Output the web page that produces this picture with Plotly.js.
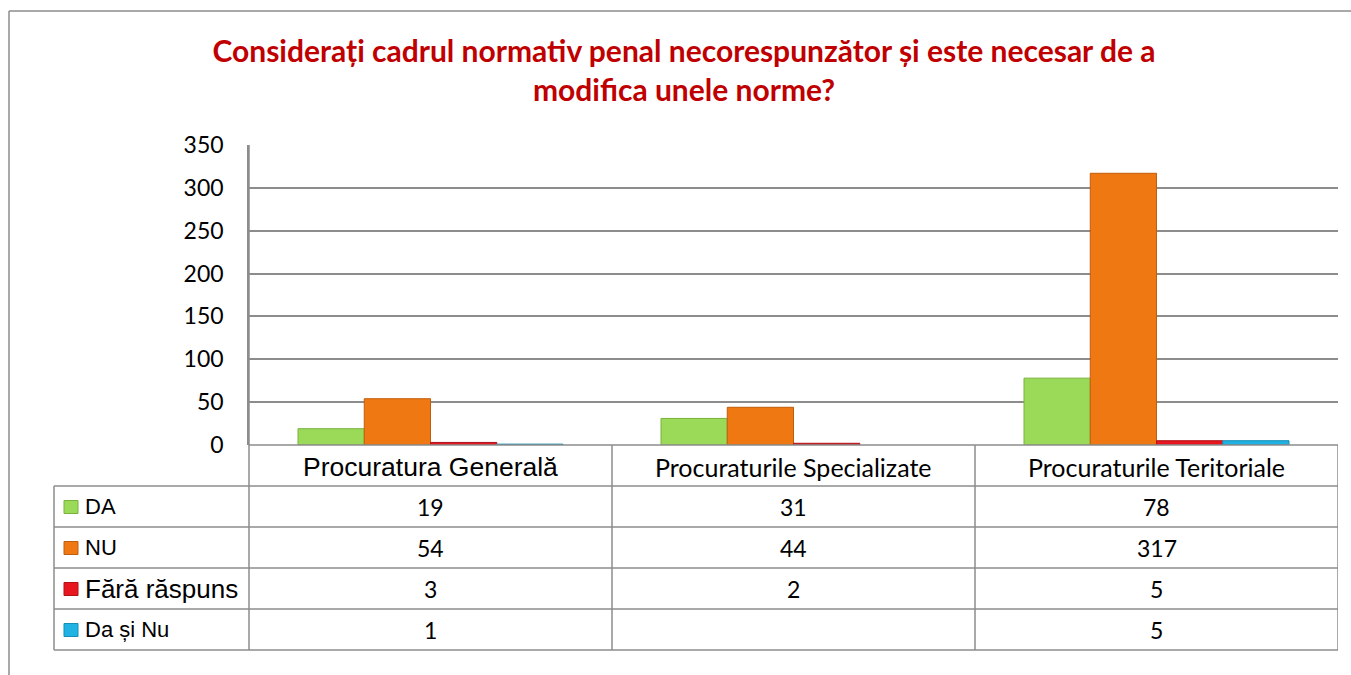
<!DOCTYPE html>
<html>
<head>
<meta charset="utf-8">
<script src="https://cdn.plot.ly/plotly-3.0.1.min.js"></script>
<style>
  html, body { margin: 0; padding: 0; background: #ffffff; }
  #chart { width: 1351px; height: 675px; }
</style>
</head>
<body>
<div id="chart"></div>
<script>
// ---- data ----
const categories = ['Procuratura Generală', 'Procuraturile Specializate', 'Procuraturile Teritoriale'];
const seriesNames = ['DA', 'NU', 'Fără răspuns', 'Da și Nu'];
const valuesDA = [19, 31, 78];
const valuesNU = [54, 44, 317];
const valuesFaraRaspuns = [3, 2, 5];
const valuesDaSiNu = [1, null, 5];
const yTickValues = [0, 50, 100, 150, 200, 250, 300, 350];
const titleText = 'Considerați cadrul normativ penal necorespunzător și este necesar de a<br>modifica unele norme?';

// ---- styles ----
const seriesValues = [valuesDA, valuesNU, valuesFaraRaspuns, valuesDaSiNu];
const fillColors = ['#9ADA58', '#F07812', '#E8161E', '#1FB3E3'];
const edgeColors = ['#78B23A', '#BF5E0C', '#B01218', '#158DB5'];
const gridColor = '#8C8C8C';
const calibriLike = 'Lato, "Open Sans", sans-serif';
const arialLike = '"Liberation Sans", Arial, sans-serif';
const categoryFonts = [
  {family: arialLike, size: 26.5, color: '#000'},
  {family: calibriLike, size: 25, color: '#000'},
  {family: calibriLike, size: 25, color: '#000'}
];
const labelFonts = [
  {family: arialLike, size: 22, color: '#000'},
  {family: arialLike, size: 22, color: '#000'},
  {family: arialLike, size: 26, color: '#000'},
  {family: arialLike, size: 22, color: '#000'}
];

// pixel geometry helpers
const W = 1351, H = 675;
const plotL = 249, plotR = 1338, plotT = 145, plotB = 445;
const plotW = plotR - plotL, plotH = plotB - plotT;
const px2x = p => (p - plotL) / plotW;
const px2y = p => (plotB - p) / plotH;
const rowH = 41;
const tableLeftPx = 54;

const traces = seriesNames.map((name, i) => ({
  type: 'bar',
  name: name,
  x: categories,
  y: seriesValues[i],
  marker: { color: fillColors[i], line: { color: edgeColors[i], width: 1 } },
  hoverinfo: 'x+y+name'
}));

const shapes = [];
const annotations = [];
const lineStyle = { color: gridColor, width: 1.5 };

// outer chart border (left + top)
shapes.push({ type: 'line', xref: 'paper', yref: 'paper',
  x0: px2x(9), y0: px2y(H + 5), x1: px2x(9), y1: px2y(11), line: lineStyle });
shapes.push({ type: 'line', xref: 'paper', yref: 'paper',
  x0: px2x(9), y0: px2y(11), x1: px2x(W + 5), y1: px2y(11), line: lineStyle });

// table: horizontal lines
const nRows = seriesNames.length;
for (let r = 1; r <= nRows + 1; r++) {
  const yy = px2y(plotB + r * rowH);
  shapes.push({ type: 'line', xref: 'paper', yref: 'paper',
    x0: px2x(tableLeftPx), x1: 1, y0: yy, y1: yy, line: lineStyle });
}
// header top line (category axis)
shapes.push({ type: 'line', xref: 'paper', yref: 'paper',
  x0: 0, x1: 1, y0: 0, y1: 0, line: lineStyle });
// table: vertical lines
const tableBottom = px2y(plotB + (nRows + 1) * rowH);
shapes.push({ type: 'line', xref: 'paper', yref: 'paper',
  x0: px2x(tableLeftPx), x1: px2x(tableLeftPx), y0: px2y(plotB + rowH), y1: tableBottom, line: lineStyle });
shapes.push({ type: 'line', xref: 'paper', yref: 'paper',
  x0: 0, x1: 0, y0: 1, y1: tableBottom, line: lineStyle });
for (let c = 0; c < categories.length; c++) {
  shapes.push({ type: 'line', xref: 'x', yref: 'paper',
    x0: c + 0.5, x1: c + 0.5, y0: 0, y1: tableBottom, line: lineStyle });
}

// category header labels
categories.forEach((cat, c) => {
  annotations.push({ xref: 'x', yref: 'paper', x: c, y: px2y(plotB + rowH / 2 + 1),
    text: cat, showarrow: false, xanchor: 'center', yanchor: 'middle', font: categoryFonts[c] });
});

// rows: legend key + label + values
seriesNames.forEach((name, r) => {
  const cy = plotB + (r + 1) * rowH + rowH / 2;
  shapes.push({ type: 'rect', xref: 'paper', yref: 'paper',
    x0: px2x(64), x1: px2x(78), y0: px2y(cy - 6), y1: px2y(cy + 7),
    fillcolor: fillColors[r], line: { color: edgeColors[r], width: 1 } });
  annotations.push({ xref: 'paper', yref: 'paper', x: px2x(83), y: px2y(cy),
    text: name, showarrow: false, xanchor: 'left', yanchor: 'middle', font: labelFonts[r] });
  seriesValues[r].forEach((v, c) => {
    if (v === null || v === undefined) return;
    annotations.push({ xref: 'x', yref: 'paper', x: c, y: px2y(cy),
      text: String(v), showarrow: false, xanchor: 'center', yanchor: 'middle',
      font: { family: calibriLike, size: 23, color: '#000' } });
  });
});

const layout = {
  width: W, height: H,
  margin: { l: plotL, r: W - plotR, t: plotT, b: H - plotB, pad: 0 },
  paper_bgcolor: '#ffffff', plot_bgcolor: '#ffffff',
  title: {
    text: titleText,
    font: { family: calibriLike, size: 30, color: '#C00000', weight: 'bold' },
    xref: 'container', yref: 'container', x: 684 / W, xanchor: 'center',
    y: 1 - 62 / H, yanchor: 'middle'
  },
  showlegend: false,
  barmode: 'group', bargap: 0.27, bargroupgap: 0,
  xaxis: { range: [-0.5, 2.5], showticklabels: false, showgrid: false, zeroline: false,
    showline: false, ticks: '', fixedrange: true },
  yaxis: { range: [0, 350], tickvals: yTickValues, ticktext: yTickValues.map(String),
    showgrid: true, gridcolor: gridColor, gridwidth: 1.5, zeroline: false,
    showline: true, linecolor: gridColor, linewidth: 1.5, ticks: '', ticklabelstandoff: 19,
    tickfont: { family: calibriLike, size: 23, color: '#000' }, fixedrange: true },
  shapes: shapes,
  annotations: annotations
};

Plotly.newPlot('chart', traces, layout, { displayModeBar: false, responsive: false });
</script>
</body>
</html>
